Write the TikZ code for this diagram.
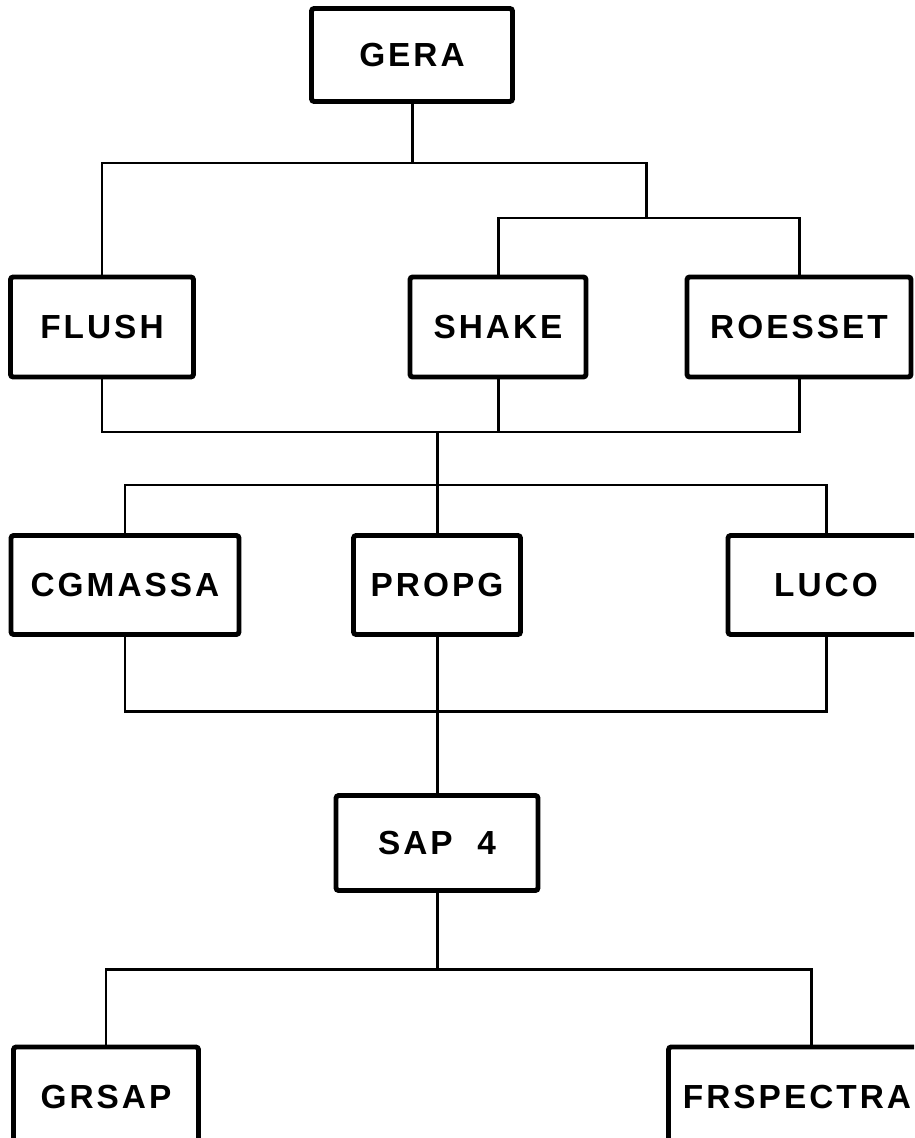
\documentclass[tikz,border=0pt]{standalone}
\usepackage{fontspec}
\setsansfont{Liberation Sans}[LetterSpace=9]
\usetikzlibrary{calc}

\tikzset{
  prog/.style = {draw, line width=2.8pt, rounded corners=1.5pt, inner sep=0pt,
                 font=\sffamily\bfseries\fontsize{19}{22}\selectfont},
  link/.style = {line width=1.7pt}
}

\begin{document}
\begin{tikzpicture}[x=0.02cm, y=-0.02cm]
    \clip (0,0) rectangle (914,1138);
    % program boxes
    \node[prog, minimum width=4.02cm, minimum height=1.86cm] (gera) at (412,55) {GERA};
    \node[prog, minimum width=3.66cm, minimum height=2cm] (flush) at (102,327) {FLUSH};
    \node[prog, minimum width=3.52cm, minimum height=2cm] (shake) at (498,327) {SHAKE};
    \node[prog, minimum width=4.48cm, minimum height=2cm] (roesset) at (799,327) {ROESSET};
    \node[prog, minimum width=4.56cm, minimum height=1.98cm] (cgmassa) at (125,585) {CGMASSA};
    \node[prog, minimum width=3.34cm, minimum height=1.98cm] (propg) at (437,585) {PROPG};
    \node[prog, minimum width=3.92cm, minimum height=1.98cm] (luco) at (826,585) {LUCO};
    \node[prog, minimum width=4.04cm, minimum height=1.9cm] (sap) at (437,843) {SAP\ \ 4};
    \node[prog, minimum width=3.7cm, minimum height=2cm] (grsap) at (106,1097) {GRSAP};
    \node[prog, minimum width=5.14cm, minimum height=2cm] (frspectra) at (797,1097) {FRSPECTRA};

    % junctions
    \coordinate (j1) at (646,163);
    \coordinate (j2) at (646,218);
    \coordinate (j3) at (437,432);
    \coordinate (j4) at (437,485);
    \coordinate (j5) at (437,711);
    \coordinate (j6) at (437,969);

    \draw[link] (gera.south) -- (gera.south |- j1);
    \draw[link] (flush.north) |- (j1) -- (j2);
    \draw[link] (shake.north) |- (j2) -| (roesset.north);

    \draw[link] (flush.south) |- (j3) -| (roesset.south);
    \draw[link] (shake.south) -- (shake.south |- j3);
    \draw[link] (j3) -- (propg.north);
    \draw[link] (cgmassa.north) |- (j4) -| (luco.north);

    \draw[link] (cgmassa.south) |- (j5) -| (luco.south);
    \draw[link] (propg.south) -- (sap.north);

    \draw[link] (sap.south) -- (j6);
    \draw[link] (grsap.north) |- (j6) -| ($(frspectra.north)+(14,0)$);
\end{tikzpicture}
\end{document}
